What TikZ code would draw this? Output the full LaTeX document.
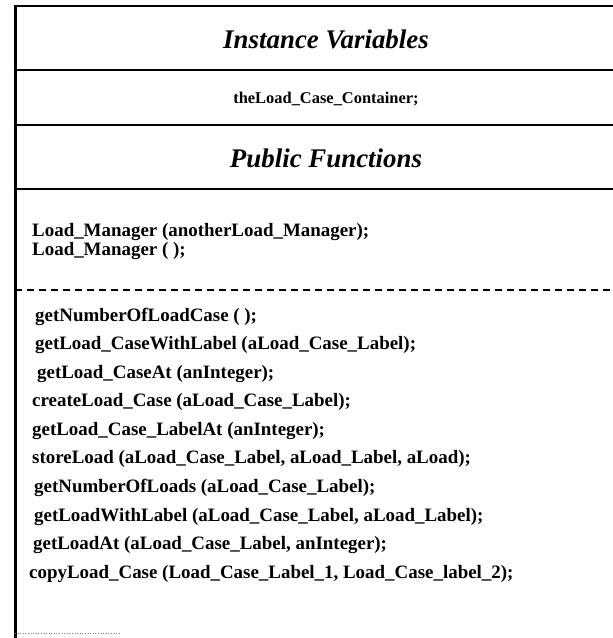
\documentclass[tikz,border=0pt]{standalone}
\usepackage{fontspec}
\setmainfont{Liberation Serif}
\begin{document}
\begin{tikzpicture}[x=1bp,y=-1bp,
  rule/.style={line width=2.4bp, line cap=butt},
  sep/.style={line width=1.1bp, dash pattern=on 7bp off 5bp},
  head/.style={font=\fontsize{27}{27}\selectfont\bfseries\itshape, anchor=center, inner sep=0pt},
  var/.style={font=\fontsize{16.5}{16.5}\selectfont\bfseries, anchor=center, inner sep=0pt},
  fn/.style={font=\fontsize{19}{19}\selectfont\bfseries, anchor=west, inner sep=0pt}]
\useasboundingbox (0,0) rectangle (613,638);

% class box frame: left edge and the horizontal rules running off to the right
\draw[line width=3bp] (15,4.8) -- (15,638);
\foreach \yy in {6,70,125,189}
  \draw[rule] (13.5,\yy) -- (613,\yy);
\draw[sep] (15,290) -- (613,290);
\draw[gray, line width=0.6bp, dotted] (15,633) -- (120,633);

% compartment titles
\node[head] (iv) at (326,39) {Instance Variables};
\node[var]  (cv) at (326,99) {theLoad\_Case\_Container;};
\node[head] (pf) at (326,158) {Public Functions};

% constructors
\node[fn] (c1) at (32,232) {Load\_Manager (anotherLoad\_Manager);};
\node[fn] (c2) at (32,251) {Load\_Manager ( );};

% member functions
\node[fn] (f1)  at (35,317) {getNumberOfLoadCase ( );};
\node[fn] (f2)  at (35,345) {getLoad\_CaseWithLabel (aLoad\_Case\_Label);};
\node[fn] (f3)  at (37,374) {getLoad\_CaseAt (anInteger);};
\node[fn] (f4)  at (32,402) {createLoad\_Case (aLoad\_Case\_Label);};
\node[fn] (f5)  at (32,431) {getLoad\_Case\_LabelAt (anInteger);};
\node[fn] (f6)  at (32,459) {storeLoad (aLoad\_Case\_Label, aLoad\_Label, aLoad);};
\node[fn] (f7)  at (34,488) {getNumberOfLoads (aLoad\_Case\_Label);};
\node[fn] (f8)  at (34,517) {getLoadWithLabel (aLoad\_Case\_Label, aLoad\_Label);};
\node[fn] (f9)  at (33,545) {getLoadAt (aLoad\_Case\_Label, anInteger);};
\node[fn] (f10) at (29,574) {copyLoad\_Case (Load\_Case\_Label\_1, Load\_Case\_label\_2);};
\end{tikzpicture}
\end{document}
